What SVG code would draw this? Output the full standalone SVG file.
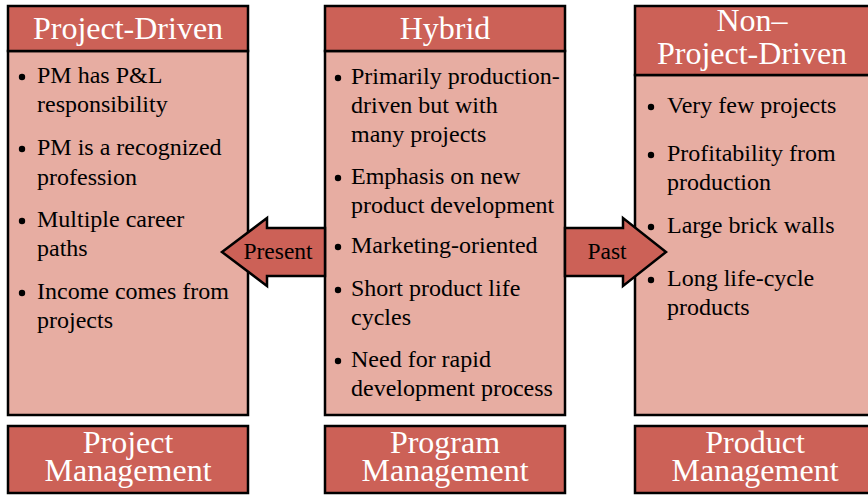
<svg xmlns="http://www.w3.org/2000/svg" width="868" height="496" viewBox="0 0 868 496">
<style>
.hdr{fill:#CC6157;stroke:#000;stroke-width:2.5}
.body{fill:#E7ADA2;stroke:#000;stroke-width:2.5}
.arrow{fill:#CC6157;stroke:#000;stroke-width:2.5;stroke-linejoin:miter}
.ht{font-family:"Liberation Serif","Times New Roman",serif;font-size:32px;fill:#fff;text-anchor:middle}
.bt{font-family:"Liberation Serif","Times New Roman",serif;font-size:24px;fill:#000}
.at{font-family:"Liberation Serif","Times New Roman",serif;font-size:23.5px;fill:#000;text-anchor:middle}
.dot{fill:#000}
</style>
<rect width="868" height="496" fill="#fff"/>
<g id="project-driven">
<rect class="body" x="8" y="51" width="240" height="364"/>
<rect class="hdr" x="8" y="6" width="240" height="45"/>
<text class="ht" x="128" y="39">Project-Driven</text>
<circle class="dot" cx="22" cy="77" r="3.2"/><circle class="dot" cx="22" cy="149" r="3.2"/><circle class="dot" cx="22" cy="221" r="3.2"/><circle class="dot" cx="22" cy="293" r="3.2"/>
<text class="bt"><tspan x="37" y="83">PM has P&amp;L</tspan><tspan x="37" y="112">responsibility</tspan><tspan x="37" y="155">PM is a recognized</tspan><tspan x="37" y="185">profession</tspan><tspan x="37" y="227">Multiple career</tspan><tspan x="37" y="256">paths</tspan><tspan x="37" y="299">Income comes from</tspan><tspan x="37" y="328">projects</tspan></text>
</g>
<g id="hybrid">
<rect class="body" x="325" y="51" width="240" height="364"/>
<rect class="hdr" x="325" y="6" width="240" height="45"/>
<text class="ht" x="445" y="39">Hybrid</text>
<circle class="dot" cx="338" cy="78" r="3.2"/><circle class="dot" cx="338" cy="178" r="3.2"/><circle class="dot" cx="338" cy="247" r="3.2"/><circle class="dot" cx="338" cy="290" r="3.2"/><circle class="dot" cx="338" cy="361" r="3.2"/>
<text class="bt"><tspan x="351" y="84">Primarily production-</tspan><tspan x="351" y="113">driven but with</tspan><tspan x="351" y="142">many projects</tspan><tspan x="351" y="184">Emphasis on new</tspan><tspan x="351" y="213">product development</tspan><tspan x="351" y="253">Marketing-oriented</tspan><tspan x="351" y="296">Short product life</tspan><tspan x="351" y="325">cycles</tspan><tspan x="351" y="367">Need for rapid</tspan><tspan x="351" y="396">development process</tspan></text>
</g>
<g id="non-project-driven">
<rect class="body" x="635" y="75" width="240" height="340"/>
<rect class="hdr" x="635" y="6" width="240" height="69"/>
<text class="ht" x="752" y="31">Non–</text>
<text class="ht" x="752" y="64">Project-Driven</text>
<circle class="dot" cx="651" cy="107" r="3.2"/><circle class="dot" cx="651" cy="155" r="3.2"/><circle class="dot" cx="651" cy="227" r="3.2"/><circle class="dot" cx="651" cy="280" r="3.2"/>
<text class="bt"><tspan x="667" y="113">Very few projects</tspan><tspan x="667" y="161">Profitability from</tspan><tspan x="667" y="190">production</tspan><tspan x="667" y="233">Large brick walls</tspan><tspan x="667" y="286">Long life-cycle</tspan><tspan x="667" y="315">products</tspan></text>
</g>
<g id="project-management">
<rect class="hdr" x="8" y="426" width="240" height="67"/>
<text class="ht" x="128" y="453">Project</text>
<text class="ht" x="128" y="481">Management</text>
</g>
<g id="program-management">
<rect class="hdr" x="325" y="426" width="240" height="67"/>
<text class="ht" x="445" y="453">Program</text>
<text class="ht" x="445" y="481">Management</text>
</g>
<g id="product-management">
<rect class="hdr" x="635" y="426" width="240" height="67"/>
<text class="ht" x="755" y="453">Product</text>
<text class="ht" x="755" y="481">Management</text>
</g>
<g id="connectors">
<polygon class="arrow" points="325,228 267,228 267,218 222,252 267,286 267,276 325,276"/>
<text class="at" x="278" y="259">Present</text>
<polygon class="arrow" points="565,228 623,228 623,218 666,252 623,286 623,276 565,276"/>
<text class="at" x="607" y="259">Past</text>
</g>
</svg>
